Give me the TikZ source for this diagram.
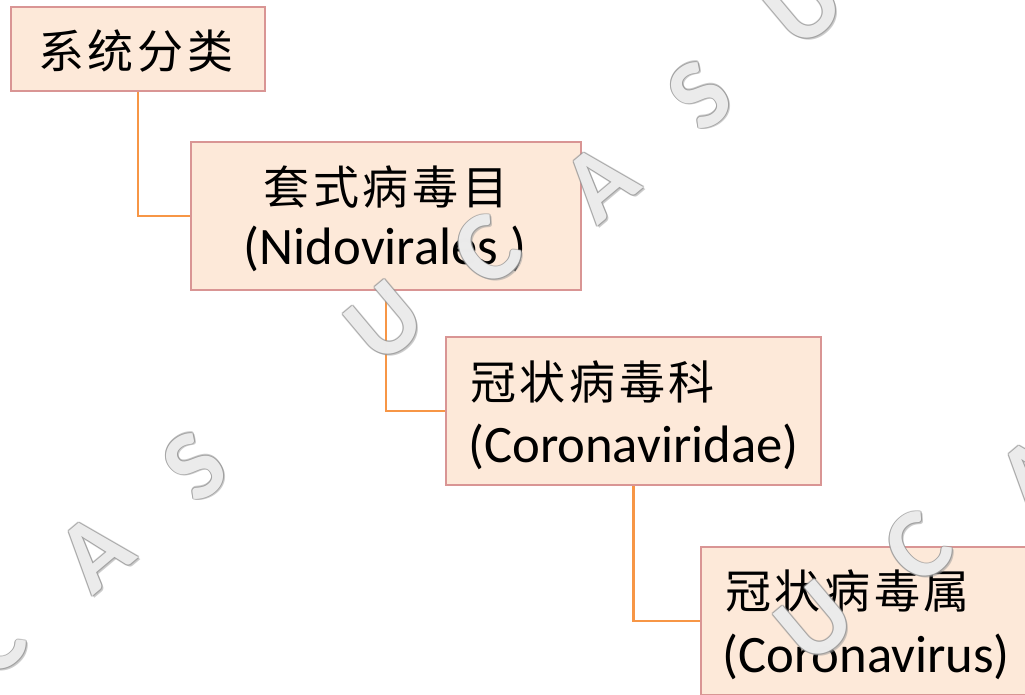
\documentclass[tikz,border=0pt]{standalone}
\usepackage{fontspec}
\setmainfont{Carlito}
\newfontfamily\cjk[LetterSpace=8]{Noto Sans CJK SC}
\usetikzlibrary{backgrounds}
\definecolor{boxfill}{HTML}{FDE9D9}
\definecolor{boxline}{HTML}{D99594}
\definecolor{linkc}{HTML}{F79646}
\newcommand\wmark[4]{%
  \foreach \dx/\dy in {-1.1/0,1.1/0,0/-1.1,0/1.1,-0.8/-0.8,0.8/0.8,-0.8/0.8,0.8/-0.8,1.8/1.8}{%
    \node[wmo] at ([shift={(\dx,\dy)}]#2,#3) {#4};}%
  \node[wmf] (#1) at (#2,#3) {#4};}
\begin{document}
\begin{tikzpicture}[x=0.75pt,y=-0.75pt,
  box/.style={draw=boxline,fill=boxfill,line width=1.9pt,rectangle,inner sep=0pt},
  link/.style={draw=linkc,line width=1.6pt},
  zh/.style={font=\cjk\fontsize{34.5}{40}\selectfont,inner sep=0pt,anchor=west},
  en/.style={font=\fontsize{39.5}{46}\selectfont,inner sep=0pt,anchor=base west},
  wmo/.style={font=\bfseries\fontsize{75}{78}\selectfont,text=black!40,text opacity=0.5,rotate=40,inner sep=0pt},
  wmf/.style={font=\bfseries\fontsize{75}{78}\selectfont,text=black!5,text opacity=0.92,rotate=40,inner sep=0pt}]
\useasboundingbox (0,0) rectangle (1025,695);
\clip (0,0) rectangle (1025,695);
% boxes
\node[box,minimum width=190.5pt,minimum height=63pt] (b1) at (138,49) {};
\node[box,minimum width=292.5pt,minimum height=111pt] (b2) at (386,216) {};
\node[box,minimum width=281.25pt,minimum height=111pt] (b3) at (633.5,411) {};
\node[box,minimum width=281.25pt,minimum height=111pt] (b4) at (888.5,621) {};
% connectors
\begin{scope}[on background layer]
\draw[link] (b1.south) |- (b2.west);
\draw[link] (b2.south) |- (b3.west);
\draw[link] (b3.south) |- (b4.west);
\end{scope}
% texts
\node[zh] (t1) at (38,51) {系统分类};
\node[zh,anchor=center] (t2a) at (386,187) {套式病毒目};
\node[en,anchor=base] (t2b) at (385,265) {(Nidovirales )};
\node[zh] (t3a) at (470,382) {冠状病毒科};
\node[en] (t3b) at (468,462) {(Coronaviridae)};
\node[zh] (t4a) at (725,591) {冠状病毒属};
\node[en] (t4b) at (722,672) {(Coronavirus)};
% watermark
\wmark{w1}{804}{6}{U}
\wmark{w2}{700}{95}{S}
\wmark{w3}{600}{182}{A}
\wmark{w4}{487}{250}{C}
\wmark{w5}{385}{322}{U}
\wmark{w6}{195}{466}{S}
\wmark{w7}{95}{552}{A}
\wmark{w8}{-8}{640}{C}
\wmark{w9}{815}{622}{U}
\wmark{w10}{918}{547}{C}
\wmark{w11}{1035}{475}{A}
\end{tikzpicture}
\end{document}
